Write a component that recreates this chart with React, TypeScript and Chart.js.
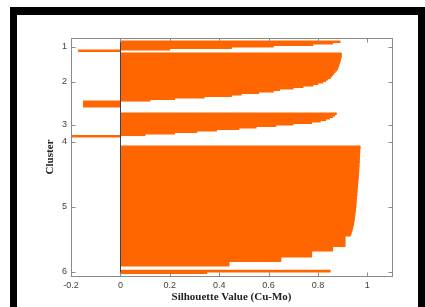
import { useEffect, useRef } from "react";
import { Chart, registerables } from "chart.js";

Chart.register(...registerables);

// Silhouette values per cluster (sorted, top to bottom as drawn)
const cluster1Values = [0.89, 0.86, 0.78, 0.62, 0.45, 0.2, -0.17];
const cluster2Values = [
  0.895, 0.895, 0.895, 0.893, 0.892, 0.89, 0.888, 0.886, 0.884, 0.882, 0.88,
  0.876, 0.87, 0.865, 0.86, 0.855, 0.85, 0.84, 0.832, 0.82, 0.8, 0.78, 0.74,
  0.7, 0.645, 0.62, 0.56, 0.49, 0.45, 0.34, 0.22, 0.12, -0.15, -0.15, -0.15,
  -0.15,
];
const cluster3Values = [
  0.875, 0.868, 0.86, 0.847, 0.832, 0.81, 0.775, 0.7, 0.63, 0.55, 0.48, 0.39,
  0.31, 0.22, 0.1, -0.2,
];
const cluster4Values = [0];
const cluster5Values = [
  0.971, 0.971, 0.97, 0.97, 0.97, 0.969, 0.969, 0.969, 0.968, 0.968, 0.968,
  0.967, 0.967, 0.967, 0.966, 0.966, 0.966, 0.965, 0.965, 0.964, 0.964, 0.963,
  0.963, 0.962, 0.962, 0.961, 0.961, 0.96, 0.96, 0.959, 0.959, 0.958, 0.958,
  0.957, 0.957, 0.956, 0.956, 0.955, 0.955, 0.954, 0.954, 0.953, 0.953, 0.952,
  0.951, 0.95, 0.95, 0.949, 0.948, 0.947, 0.946, 0.945, 0.944, 0.943, 0.941,
  0.94, 0.938, 0.936, 0.934, 0.932, 0.91, 0.91, 0.91, 0.91, 0.91, 0.91, 0.91,
  0.86, 0.86, 0.86, 0.775, 0.775, 0.775, 0.775, 0.65, 0.65, 0.65, 0.44, 0.44,
  0.44,
];
const cluster6Values = [0.85, 0.35];

// Row index where each cluster's first bar sits (gaps between clusters)
const clusterStartRows = [2, 10, 50, 69, 72, 155];

// Y tick positions (cluster label rows) and labels
const yTickRows = [5.5, 28.6, 57.5, 68.8, 112.2, 155.5];
const clusterLabels = ["1", "2", "3", "4", "5", "6"];

// X ticks
const xTickValues = [-0.2, 0, 0.2, 0.4, 0.6, 0.8, 1];
const xTickLabels = ["-0.2", "0", "0.2", "0.4", "0.6", "0.8", "1"];

const clusters = [
  cluster1Values,
  cluster2Values,
  cluster3Values,
  cluster4Values,
  cluster5Values,
  cluster6Values,
];

const framePlugin = {
  id: "matlabFrame",
  afterDatasetsDraw(chart: any) {
    const { ctx, chartArea: a, scales } = chart;
    const xs = scales.x;
    const ys = scales.y;
    ctx.save();
    ctx.lineWidth = 1;
    // zero baseline
    const x0 = Math.round(xs.getPixelForValue(0)) + 0.5;
    ctx.strokeStyle = "#3d4350";
    ctx.beginPath();
    ctx.moveTo(x0, a.top);
    ctx.lineTo(x0, a.bottom);
    ctx.stroke();
    // box
    const L = Math.round(a.left) + 0.5;
    const T = Math.round(a.top) + 0.5;
    const R = Math.round(a.right) + 0.5;
    const B = Math.round(a.bottom) + 0.5;
    ctx.strokeStyle = "#8a8a8a";
    ctx.strokeRect(L, T, R - L, B - T);
    // inward ticks
    const len = 4;
    ctx.beginPath();
    xs.ticks.forEach((t: any) => {
      const p = Math.round(xs.getPixelForValue(t.value)) + 0.5;
      ctx.moveTo(p, B);
      ctx.lineTo(p, B - len);
      ctx.moveTo(p, T);
      ctx.lineTo(p, T + len);
    });
    ys.ticks.forEach((t: any) => {
      const p = Math.round(ys.getPixelForValue(t.value)) + 0.5;
      ctx.moveTo(L, p);
      ctx.lineTo(L + len, p);
      ctx.moveTo(R, p);
      ctx.lineTo(R - len, p);
    });
    ctx.stroke();
    ctx.restore();
  },
};

export default function App() {
  const ref = useRef<HTMLCanvasElement | null>(null);

  useEffect(() => {
    if (!ref.current) return;
    const rows = clusters.flatMap((vals, c) =>
      vals.map((v, i) => ({ x: v, y: clusterStartRows[c] + i }))
    );
    const tickFont = { family: "'Liberation Sans', Arial, sans-serif", size: 9 };
    const titleFont = {
      family: "'Liberation Serif', 'Times New Roman', serif",
      size: 11,
      weight: "bold" as const,
    };
    const chart = new Chart(ref.current, {
      type: "bar",
      data: {
        datasets: [
          {
            data: rows as any,
            backgroundColor: "#ff6600",
            borderWidth: 0,
            barThickness: 2,
          },
        ],
      },
      options: {
        indexAxis: "y",
        animation: false,
        responsive: false,
        devicePixelRatio: 1,
        layout: { padding: { left: 0, right: 33, top: 38, bottom: 0 } },
        plugins: {
          legend: { display: false },
          tooltip: { enabled: false },
        },
        scales: {
          x: {
            type: "linear",
            min: -0.2,
            max: 1.1,
            grid: { display: false, drawTicks: false, tickLength: 0 },
            border: { display: false },
            afterBuildTicks: (scale: any) => {
              scale.ticks = xTickValues.map((v) => ({ value: v }));
            },
            afterFit: (scale: any) => {
              scale.height = 31;
            },
            ticks: {
              autoSkip: false,
              maxRotation: 0,
              padding: 4,
              color: "#3c3c3c",
              font: tickFont,
              callback: (_v: any, i: number) => xTickLabels[i],
            },
            title: {
              display: true,
              text: "Silhouette Value (Cu-Mo)",
              color: "#222",
              font: titleFont,
              padding: { top: 0, bottom: 3.4 },
            },
          },
          y: {
            type: "linear",
            reverse: true,
            offset: false,
            min: -0.5,
            max: 158.2,
            grid: { display: false, drawTicks: false, tickLength: 0 },
            border: { display: false },
            afterBuildTicks: (scale: any) => {
              scale.ticks = yTickRows.map((v) => ({ value: v }));
            },
            afterFit: (scale: any) => {
              scale.width = 71;
            },
            ticks: {
              autoSkip: false,
              padding: 4,
              color: "#3c3c3c",
              font: tickFont,
              callback: (_v: any, i: number) => clusterLabels[i],
            },
            title: {
              display: true,
              text: "Cluster",
              color: "#222",
              font: titleFont,
              padding: { top: 43.4, bottom: 0 },
            },
          },
        },
      },
      plugins: [framePlugin],
    });
    return () => chart.destroy();
  }, []);

  return (
    <div
      style={{
        position: "fixed",
        left: 0,
        top: 0,
        width: 425,
        height: 307,
        background: "#fff",
        overflow: "hidden",
      }}
    >
      <div
        style={{
          position: "absolute",
          left: 10,
          top: 7,
          width: 415,
          height: 300,
          borderLeft: "7px solid #000",
          borderTop: "8px solid #000",
          borderRight: "7px solid #000",
          boxSizing: "border-box",
        }}
      />
      <canvas
        ref={ref}
        width={425}
        height={307}
        style={{ position: "absolute", left: 0, top: 0, display: "block" }}
      />
    </div>
  );
}
